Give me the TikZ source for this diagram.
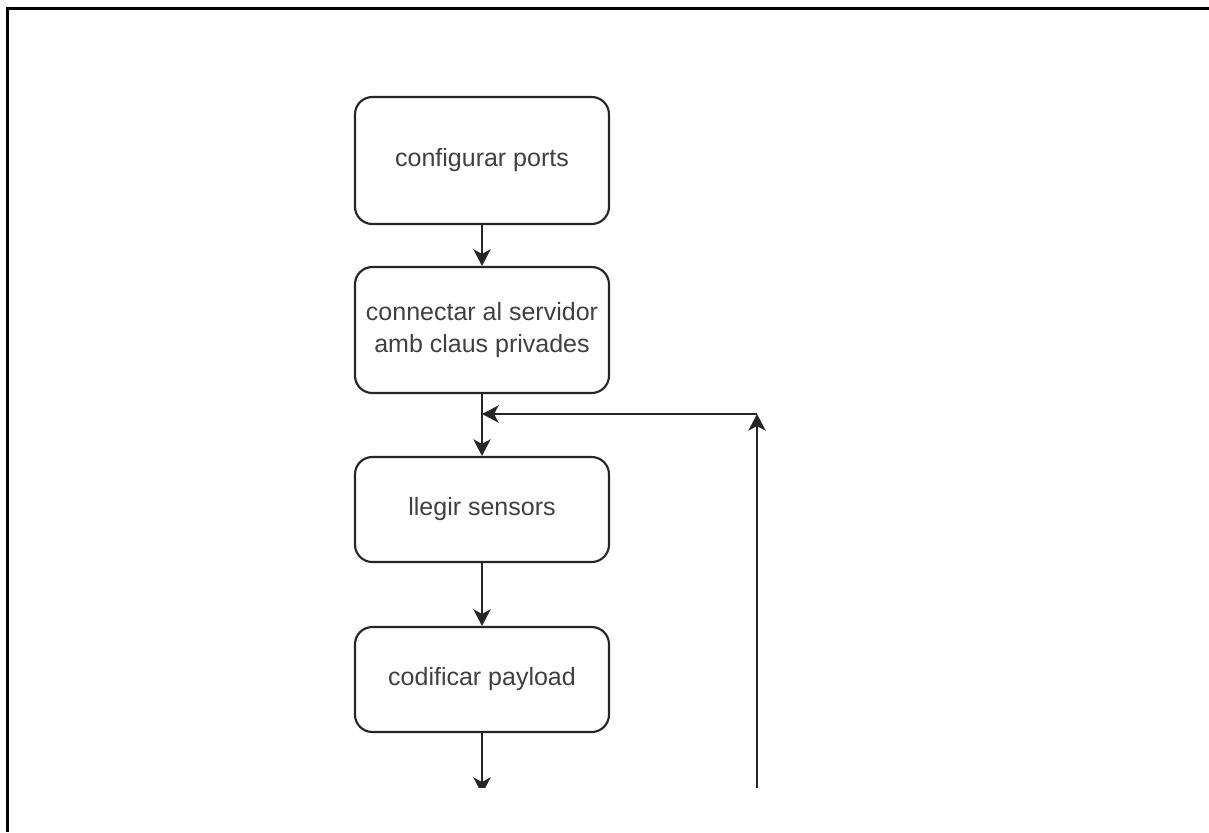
\documentclass[tikz,border=0pt]{standalone}
\usepackage{fontspec}
\setmainfont{Liberation Sans}
\usetikzlibrary{arrows.meta}
\tikzset{
  stepbox/.style={draw=black!85, line width=1.6pt, rounded corners=13pt, fill=white,
    minimum width=190.5pt, align=center, text=black!75,
    font=\fontsize{18.75pt}{23.5pt}\selectfont, inner sep=0pt},
  flow/.style={draw=black!85, line width=1.6pt,
    -{Stealth[length=12.5pt, width=13pt, inset=3.5pt]}},
  frameline/.style={draw=black, line width=2.6pt}
}
\begin{document}
\begin{tikzpicture}[x=0.75pt, y=-0.75pt]
\useasboundingbox (0,0) rectangle (1209,832);
\fill[white] (0,0) rectangle (1209,832);
% frame
\coordinate (fl) at (7.5,832);
\coordinate (ftl) at (7.5,8.5);
\coordinate (ftr) at (1209,8.5);
\draw[frameline] (fl) -- (ftl) -- (ftr);
% boxes
\node[stepbox, minimum height=95.25pt] (b1) at (482,160.5) {configurar ports};
\node[stepbox, minimum height=94.5pt] (b2) at (482,330) {connectar al servidor\\amb claus privades};
\node[stepbox, minimum height=78.75pt] (b3) at (482,509.5) {llegir sensors};
\node[stepbox, minimum height=78.75pt] (b4) at (482,679.5) {codificar payload};
% connectors
\coordinate (join) at (482,414);
\coordinate (corner) at (757,414);
\coordinate (loopstart) at (757,800);
\coordinate (down) at (482,794);
\draw[flow] (b1) -- (b2);
\draw[flow] (b2) -- (b3);
\draw[flow] (b3) -- (b4);
\begin{scope}
\clip (0,0) rectangle (1209,787);
\draw[flow] (b4) -- (down);
\draw[flow] (loopstart) -- (corner);
\end{scope}
\draw[flow] (corner) -- (join);
\end{tikzpicture}
\end{document}
